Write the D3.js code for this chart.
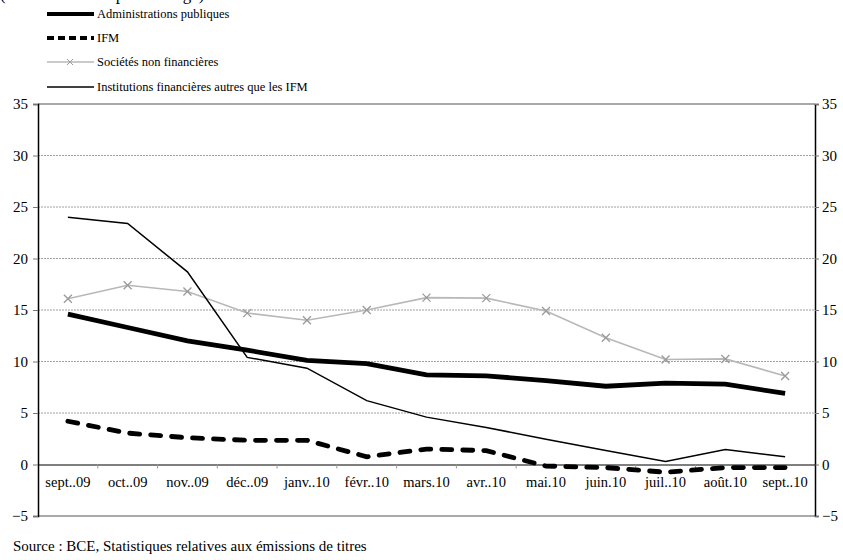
<!DOCTYPE html>
<html>
<head>
<meta charset="utf-8">
<script src="https://cdn.jsdelivr.net/npm/d3@7"></script>
<style>
	body { margin: 0; background: #fff; }
	svg { display: block; font-family: "Liberation Serif", "DejaVu Serif", serif; }
</style>
</head>
<body>
<svg id="chart"></svg>
<script>
var w = 843;
var h = 560;

// months on the x axis
var months = ["sept..09", "oct..09", "nov..09", "déc..09", "janv..10", "févr..10", "mars.10",
	"avr..10", "mai.10", "juin.10", "juil..10", "août.10", "sept..10"];

// series values
var adminPub = [14.6, 13.3, 12.0, 11.1, 10.1, 9.8, 8.7, 8.6, 8.15, 7.6, 7.9, 7.8, 6.9];
var ifm = [4.2, 3.05, 2.6, 2.35, 2.35, 0.75, 1.5, 1.35, -0.15, -0.3, -0.75, -0.3, -0.3];
var societes = [16.1, 17.4, 16.8, 14.7, 14.0, 15.0, 16.2, 16.15, 14.9, 12.3, 10.2, 10.25, 8.6];
var instFin = [24.0, 23.4, 18.7, 10.4, 9.35, 6.2, 4.6, 3.6, 2.45, 1.35, 0.3, 1.45, 0.75];

var yTicks = [-5, 0, 5, 10, 15, 20, 25, 30, 35];

var legendLabels = ["Administrations publiques", "IFM", "Sociétés non financières",
	"Institutions financières autres que les IFM"];

var svg = d3.select("#chart")
	.attr("width", w)
	.attr("height", h);

// plot area edges (window.top is reserved, so prefixed names)
var pLeft = 38, pRight = 815, pTop = 104, pBottom = 516;

var x = d3.scaleBand()
	.domain(months)
	.range([pLeft, pRight]);

var y = d3.scaleLinear()
	.domain([-5, 35])
	.range([pBottom, pTop]);

// cut-off title at the very top
svg.append("text")
	.attr("x", 0)
	.attr("y", 0)
	.attr("font-size", 17)
	.text("(taux annuels en pourcentage)");

// gridlines
svg.append("g")
	.selectAll("line")
	.data(yTicks.filter(d => d !== 0 && d !== 35 && d !== -5))
	.enter().append("line")
	.attr("x1", pLeft).attr("x2", pRight)
	.attr("y1", d => y(d)).attr("y2", d => y(d))
	.style("stroke", "#a0a0a0")
	.style("stroke-width", 1)
	.style("stroke-dasharray", "2,1");

// plot area border top / bottom
[35, -5].forEach(v => {
	svg.append("line")
		.attr("x1", pLeft).attr("x2", pRight)
		.attr("y1", y(v)).attr("y2", y(v))
		.style("stroke", "#8c8c8c")
		.style("stroke-width", 1.5);
});

// left axis
var yAxisL = d3.axisLeft(y).tickValues(yTicks).tickSize(5).tickPadding(5);
var gl = svg.append("g")
	.attr("transform", "translate(" + pLeft + ",0)")
	.call(yAxisL);

// right axis
var yAxisR = d3.axisRight(y).tickValues(yTicks).tickSize(4).tickPadding(3);
var gr = svg.append("g")
	.attr("transform", "translate(" + pRight + ",0)")
	.call(yAxisR);

[gl, gr].forEach(g => {
	g.select(".domain").style("stroke", "#000").style("stroke-width", 1.5);
	g.selectAll(".tick line").style("stroke", "#777");
	g.selectAll("text")
		.attr("font-size", 15)
		.attr("font-family", "Liberation Serif, serif")
		.style("fill", "#000");
});

// x axis on the zero line
var xAxis = d3.axisBottom(x).tickSize(0).tickPadding(12);
var gx = svg.append("g")
	.attr("transform", "translate(0," + y(0) + ")")
	.call(xAxis);
gx.select(".domain").style("stroke", "#000").style("stroke-width", 1.2);
gx.selectAll("text")
	.attr("font-size", 14.5)
	.attr("font-family", "Liberation Serif, serif")
	.style("fill", "#000");

// small ticks between categories
svg.append("g")
	.selectAll("line")
	.data(months.slice(1))
	.enter().append("line")
	.attr("x1", d => x(d)).attr("x2", d => x(d))
	.attr("y1", y(0)).attr("y2", y(0) + 4)
	.style("stroke", "#999");

var line = d3.line()
	.x((d, i) => x(months[i]) + x.bandwidth() / 2)
	.y(d => y(d));

// series
svg.append("path")
	.datum(societes)
	.attr("d", line)
	.attr("fill", "none")
	.style("stroke", "#b8b8b8")
	.style("stroke-width", 1.6);

svg.append("g")
	.selectAll("path")
	.data(societes)
	.enter().append("path")
	.attr("d", "M-4,-4L4,4M-4,4L4,-4")
	.attr("transform", (d, i) => "translate(" + (x(months[i]) + x.bandwidth() / 2) + "," + y(d) + ")")
	.style("stroke", "#9a9a9a")
	.style("stroke-width", 1.3);

svg.append("path")
	.datum(instFin)
	.attr("d", line)
	.attr("fill", "none")
	.style("stroke", "#000")
	.style("stroke-width", 1.5);

svg.append("path")
	.datum(adminPub)
	.attr("d", line)
	.attr("fill", "none")
	.style("stroke", "#000")
	.style("stroke-width", 4.8);

svg.append("path")
	.datum(ifm)
	.attr("d", line)
	.attr("fill", "none")
	.style("stroke", "#000")
	.style("stroke-width", 4.8)
	.style("stroke-linecap", "round")
	.style("stroke-dasharray", "10,11");

// legend
var legY = [14, 38, 62, 87];
var leg = svg.selectAll(".legend")
	.data(legendLabels)
	.enter().append("g")
	.attr("class", "legend")
	.attr("transform", (d, i) => "translate(0," + legY[i] + ")");

leg.append("line")
	.attr("x1", 47).attr("x2", 94)
	.attr("y1", 0).attr("y2", 0)
	.style("stroke", (d, i) => i === 2 ? "#b8b8b8" : "#000")
	.style("stroke-width", (d, i) => [4, 4, 1.3, 1.5][i])
	.style("stroke-dasharray", (d, i) => i === 1 ? "7,4" : null);

leg.filter((d, i) => i === 2).append("path")
	.attr("d", "M67,-3L73,3M67,3L73,-3")
	.style("stroke", "#9a9a9a")
	.style("stroke-width", 1);

leg.append("text")
	.attr("x", 97)
	.attr("dy", "0.35em")
	.attr("font-size", 12.5)
	.text(d => d);

// source
svg.append("text")
	.attr("x", 13)
	.attr("y", 551)
	.attr("font-size", 15)
	.text("Source : BCE, Statistiques relatives aux émissions de titres");
</script>
</body>
</html>
